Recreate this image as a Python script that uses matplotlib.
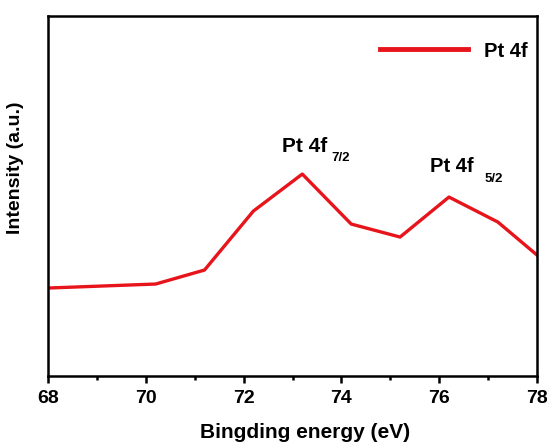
import matplotlib
matplotlib.use("Agg")
from matplotlib import pyplot as plt
from matplotlib.ticker import MultipleLocator

plt.rcParams['font.family'] = ['Liberation Sans', 'DejaVu Sans']
plt.rcParams['font.weight'] = 'bold'

energy = [68.0, 70.2, 71.2, 72.2, 73.2, 74.2, 75.2, 76.2, 77.2, 78.0]
intensity = [88, 92, 106, 165, 202, 152, 139, 179, 154, 121]
series_name = "Pt 4f"
peak_names = ["Pt 4f", "Pt 4f"]
peak_subs = ["7/2", "5/2"]

fig = plt.figure(figsize=(5.47, 4.47), dpi=100)
ax = fig.add_axes([0.0878, 0.1588, 0.8939, 0.8052])

ax.plot(energy, intensity, color='#e8141c', lw=2.4, label=series_name)

ax.set_xlim(68, 78)
ax.set_ylim(0, 360)
ax.xaxis.set_major_locator(MultipleLocator(2))
ax.xaxis.set_minor_locator(MultipleLocator(1))
ax.tick_params(axis='x', which='major', direction='out', length=5, width=1.8,
               labelsize=14, pad=5.2)
ax.tick_params(axis='x', which='minor', direction='out', length=3, width=1.8)
ax.set_yticks([])
for s in ax.spines.values():
    s.set_linewidth(1.8)

ax.set_xlabel("Bingding energy (eV)", fontsize=15, fontweight='bold')
ax.set_ylabel("Intensity (a.u.)", fontsize=14, fontweight='bold')
ax.xaxis.set_label_coords(0.526, -0.13)
ax.yaxis.set_label_coords(-0.049, 0.58)

# peak labels: main text and lowered subscript
ax.text(72.78, 224, peak_names[0], fontsize=15, fontweight='bold', ha='left', va='baseline')
ax.text(73.79, 215, peak_subs[0], fontsize=9.5, fontweight='bold', ha='left', va='baseline')
ax.text(75.81, 204, peak_names[1], fontsize=14.5, fontweight='bold', ha='left', va='baseline')
ax.text(76.92, 194, peak_subs[1], fontsize=9.5, fontweight='bold', ha='left', va='baseline')

leg = ax.legend(loc='center right', bbox_to_anchor=(0.98, 0.903), frameon=False,
                fontsize=14.5, handlelength=4.4, handletextpad=0.75,
                borderaxespad=0, borderpad=0)
for h in leg.get_lines():
    h.set_linewidth(3.5)

fig.savefig("out.png", dpi=100)
